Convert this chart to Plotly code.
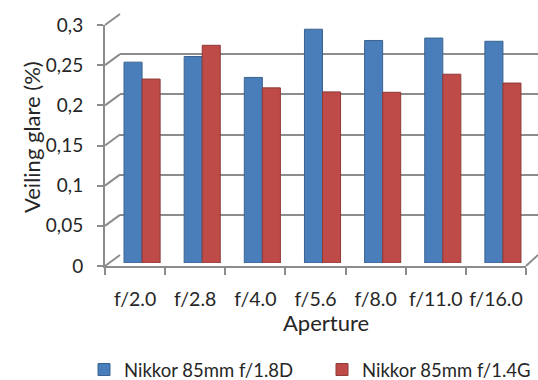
import plotly.graph_objects as go

W, H = 538, 380

categories = ["f/2.0", "f/2.8", "f/4.0", "f/5.6", "f/8.0", "f/11.0", "f/16.0"]
series_names = ["Nikkor 85mm f/1.8D", "Nikkor 85mm f/1.4G"]
nikkor_18d = [0.250, 0.257, 0.231, 0.291, 0.277, 0.280, 0.276]
nikkor_14g = [0.229, 0.271, 0.218, 0.213, 0.2125, 0.235, 0.224]
y_tickvals = [0, 0.05, 0.1, 0.15, 0.2, 0.25, 0.3]
y_ticktext = ["0", "0,05", "0,1", "0,15", "0,2", "0,25", "0,3"]

FONT = "Lato"
TXT = "#262626"
GRID = "#8c8c8c"


def px(x):
    return x / W


def py(y):
    return 1 - y / H


fig = go.Figure()

# back wall (gridlines only)
fig.add_trace(go.Scatter(x=[0], y=[0], mode="markers", marker=dict(opacity=0),
                         showlegend=False, hoverinfo="skip", xaxis="x", yaxis="y"))

# bars
colors = ["#4a7ebb", "#be4b48"]
lines = ["#3a6390", "#8e3a38"]
legends = ["legend", "legend2"]
for name, vals, c, lc, lg in zip(series_names, [nikkor_18d, nikkor_14g], colors, lines, legends):
    fig.add_trace(go.Bar(x=categories, y=vals, name=name, legend=lg,
                         marker=dict(color=c, line=dict(color=lc, width=1)),
                         xaxis="x2", yaxis="y2"))

# front axes
fig.add_trace(go.Scatter(x=categories, y=[0] * len(categories), mode="markers", marker=dict(opacity=0),
                         showlegend=False, hoverinfo="skip", xaxis="x3", yaxis="y3"))

legend_style = dict(orientation="h", yanchor="middle", xanchor="left",
                    font=dict(family=FONT, size=18.5, color=TXT), bgcolor="rgba(0,0,0,0)")

fig.update_layout(
    width=W, height=H,
    margin=dict(l=0, r=0, t=0, b=0, autoexpand=False),
    paper_bgcolor="white",
    plot_bgcolor="rgba(0,0,0,0)",
    font=dict(family=FONT, size=18, color=TXT),
    barmode="group", bargap=0.4, bargroupgap=0,
    xaxis=dict(domain=[px(120), 1], range=[0, 1], visible=False, anchor="y"),
    yaxis=dict(domain=[py(255), py(14)], range=[0, 0.3], tickvals=y_tickvals, showgrid=True,
               gridcolor=GRID, gridwidth=2, showticklabels=False, ticks="", zeroline=False,
               showline=False, anchor="x"),
    xaxis2=dict(domain=[px(112), px(533)], type="category", range=[-0.5, 6.5], visible=False, anchor="y2"),
    yaxis2=dict(domain=[py(263), py(22)], range=[0, 0.3], visible=False, anchor="x2"),
    xaxis3=dict(domain=[px(105), px(526)], type="category", range=[-0.5, 6.5], anchor="y3",
                showline=True, linecolor=GRID, linewidth=2, ticks="outside", tickson="boundaries",
                ticklen=7, tickwidth=2, tickcolor=GRID, showgrid=False, zeroline=False, tickangle=0,
                tickfont=dict(family=FONT, size=19.5, color=TXT), ticklabelstandoff=15),
    yaxis3=dict(domain=[py(266), py(25)], range=[0, 0.3], anchor="x3",
                showline=True, linecolor=GRID, linewidth=2, ticks="outside", ticklen=6,
                tickwidth=2, tickcolor=GRID, tickvals=y_tickvals, ticktext=y_ticktext,
                showgrid=False, zeroline=False, ticklabelstandoff=10,
                tickfont=dict(family=FONT, size=19, color=TXT)),
    legend=dict(x=px(84), y=py(370), **legend_style),
    legend2=dict(x=px(322), y=py(370), **legend_style),
)

# side wall diagonals and floor edge
shapes = []
step = (266 - 25) / 6
for i in range(7):
    yf = 266 - i * step
    yb = 255 - i * step
    shapes.append(dict(type="line", xref="paper", yref="paper", x0=px(105), y0=py(yf), x1=px(120), y1=py(yb),
                       line=dict(color=GRID, width=2), layer="below"))
shapes.append(dict(type="line", xref="paper", yref="paper", x0=px(526), y0=py(266), x1=px(538), y1=py(255),
                   line=dict(color=GRID, width=2), layer="below"))
fig.update_layout(shapes=shapes)

fig.add_annotation(text="Veiling glare (%)", x=px(31), y=py(137), xref="paper", yref="paper",
                   xanchor="center", yanchor="middle",
                   textangle=-90, showarrow=False, font=dict(family=FONT, size=22, color=TXT))
fig.add_annotation(text="Aperture", x=px(326), y=py(322), xref="paper", yref="paper",
                   xanchor="center", yanchor="middle",
                   showarrow=False, font=dict(family=FONT, size=22, color=TXT))

fig.write_html("out.html", config={"displayModeBar": False},
               post_script="document.body.style.margin='0';")
